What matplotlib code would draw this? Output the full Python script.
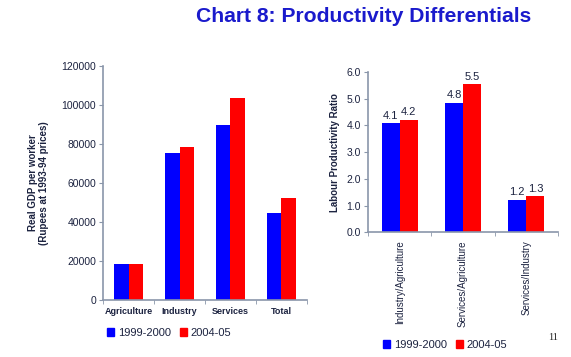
import numpy as np
import matplotlib.pyplot as plt
from matplotlib.patches import Patch

plt.rcParams['font.family'] = ['Liberation Sans', 'DejaVu Sans']

# data
sectors = ['Agriculture', 'Industry', 'Services', 'Total']
gdp_1999 = [18500, 75500, 89500, 44800]
gdp_2004 = [18700, 78500, 103800, 52200]

ratios = ['Industry/Agriculture', 'Services/Agriculture', 'Services/Industry']
ratio_1999 = [4.08, 4.84, 1.21]
ratio_2004 = [4.22, 5.54, 1.34]

series = ['1999-2000', '2004-05']
blue = '#0000FF'
red = '#FF0000'
txt = '#1c2340'
axc = '#8a96aa'

W, H = 571, 357
fig = plt.figure(figsize=(W / 100, H / 100), dpi=100)


def box(x0, x1, ytop, ybot):
    return [x0 / W, 1 - ybot / H, (x1 - x0) / W, (ybot - ytop) / H]


def style(ax, n):
    for s in ['top', 'right']:
        ax.spines[s].set_visible(False)
    for s in ['left', 'bottom']:
        ax.spines[s].set_color(axc)
        ax.spines[s].set_linewidth(1.2)
    ax.set_xlim(-0.5, n - 0.5)
    ax.set_xticks(np.arange(n))
    ax.set_xticks(np.arange(n + 1) - 0.5, minor=True)
    ax.tick_params(axis='x', which='major', length=0, colors=txt)
    ax.tick_params(axis='x', which='minor', length=3, color=axc)
    ax.tick_params(axis='y', length=3, color=axc, colors=txt, labelsize=7.5, pad=2)


# left chart
ax1 = fig.add_axes(box(103, 307, 66, 300))
x = np.arange(len(sectors))
bw = 0.285
ax1.bar(x - bw / 2, gdp_1999, bw, color=blue)
ax1.bar(x + bw / 2, gdp_2004, bw, color=red)
style(ax1, len(sectors))
ax1.set_ylim(0, 120000)
ax1.set_yticks(np.arange(0, 120001, 20000))
ax1.set_xticklabels(sectors, fontsize=6.5, fontweight='bold')
ax1.tick_params(axis='x', which='major', pad=5)
ax1.set_ylabel('Real GDP per worker\n(Rupees at 1993-94 prices)', fontsize=7,
               fontweight='bold', color=txt, labelpad=9, linespacing=1.1)

# right chart
ax2 = fig.add_axes(box(368, 558, 72, 232.3))
x2 = np.arange(len(ratios))
bw2 = 0.285
b1 = ax2.bar(x2 - bw2 / 2, ratio_1999, bw2, color=blue)
b2 = ax2.bar(x2 + bw2 / 2, ratio_2004, bw2, color=red)
style(ax2, len(ratios))
ax2.set_ylim(0, 6)
ax2.set_yticks(np.arange(0, 6.01, 1.0))
ax2.set_yticklabels([f'{v:.1f}' for v in np.arange(0, 6.01, 1.0)])
ax2.set_xticklabels(ratios, rotation=90, fontsize=7, va='top')
ax2.tick_params(axis='x', which='major', pad=6)
ax2.set_ylabel('Labour Productivity Ratio', fontsize=7, fontweight='bold',
               color=txt, labelpad=5)
for bars, vals in [(b1, ratio_1999), (b2, ratio_2004)]:
    for b, v in zip(bars, vals):
        ax2.text(b.get_x() + b.get_width() / 2, v + 0.1, f'{v:.1f}',
                 ha='center', va='bottom', fontsize=8, color=txt)

# legends
handles = [Patch(color=blue, label=series[0]), Patch(color=red, label=series[1])]
for lx, ly in [(101, 333), (377, 345)]:
    fig.legend(handles=handles, loc='center left', bbox_to_anchor=(lx / W, 1 - ly / H),
               ncol=2, frameon=False, fontsize=8, handlelength=0.7, handleheight=0.7,
               handletextpad=0.3, columnspacing=0.8, borderpad=0, labelcolor=txt)

fig.text(196 / W, 1 - 16 / H, 'Chart 8: Productivity Differentials', fontsize=15.2,
         fontweight='bold', color='#1a1acc', va='center', ha='left')
fig.text(553 / W, 1 - 338 / H, '11', fontsize=7.5, family='Liberation Serif',
         color='#222222', va='center', ha='center')

fig.savefig('out.png', dpi=100)
